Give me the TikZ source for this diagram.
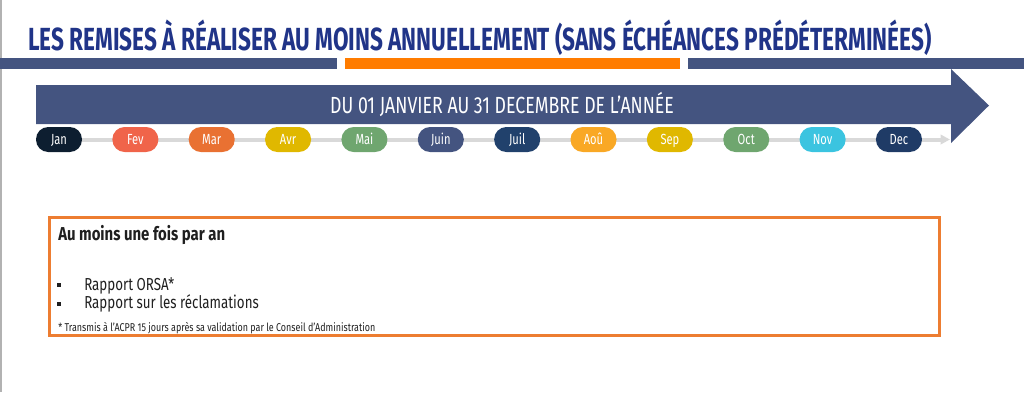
\documentclass[tikz,border=0pt]{standalone}
\usepackage{fontspec}
\setmainfont{Fira Sans}[FakeStretch=0.62]
\newfontfamily\ttlfont{Fira Sans}[FakeStretch=0.705]
\newfontfamily\yearfont{Fira Sans}[FakeStretch=0.76]
\newfontfamily\headfont{Fira Sans}[FakeStretch=0.80]
\newfontfamily\boxfont{Fira Sans}[FakeStretch=0.77]
\newfontfamily\notefont{Fira Sans}[FakeStretch=0.79]
\usetikzlibrary{positioning,arrows.meta,backgrounds}
\definecolor{titleblue}{RGB}{32,52,136}
\definecolor{slate}{RGB}{68,84,128}
\definecolor{barorange}{RGB}{255,124,0}
\definecolor{boxorange}{RGB}{237,125,49}
\definecolor{tlgray}{RGB}{217,217,217}
\definecolor{mjan}{RGB}{13,30,48}
\definecolor{mfev}{RGB}{240,100,74}
\definecolor{mmar}{RGB}{233,113,50}
\definecolor{mavr}{RGB}{224,184,0}
\definecolor{mmai}{RGB}{111,166,111}
\definecolor{mjuin}{RGB}{68,84,128}
\definecolor{mjuil}{RGB}{33,65,108}
\definecolor{maou}{RGB}{249,168,37}
\definecolor{mnov}{RGB}{59,196,224}
\definecolor{mdec}{RGB}{31,59,102}
\tikzset{
  % --- texts -----------------------------------------------------------
  ttl/.style    ={anchor=base west, inner sep=0, text=titleblue,
                  font=\ttlfont\bfseries\fontsize{24}{24}\selectfont},
  period/.style ={anchor=base, inner sep=0, text=white,
                  font=\yearfont\fontsize{17.5}{17.5}\selectfont},
  head/.style   ={anchor=base west, inner sep=0, text=black!88,
                  font=\headfont\bfseries\fontsize{14}{14}\selectfont},
  item/.style   ={anchor=base west, inner sep=0, text=black!88,
                  font=\boxfont\fontsize{13}{13}\selectfont},
  note/.style   ={anchor=base west, inner sep=0, text=black!88,
                  font=\notefont\fontsize{8.5}{8.5}\selectfont},
  % --- shapes ----------------------------------------------------------
  month/.style  ={rounded corners=9.2pt, minimum width=34.5pt,
                  minimum height=18.75pt, inner sep=0, text=white,
                  text height=7.6pt, text depth=0pt,
                  font=\yearfont\fontsize{11}{11}\selectfont},
  bul/.style    ={fill=black!88, minimum size=3.6pt, inner sep=0},
  remit/.style  ={draw=boxorange, line width=2.25pt, minimum width=667.5pt,
                  minimum height=88.5pt},
  timeline/.style={-{Triangle[length=7pt,width=7pt]}, line width=3pt, draw=tlgray},
}

\begin{document}
\begin{tikzpicture}[x=0.75pt, y=-0.75pt]
  \useasboundingbox (0,0) rectangle (1024,394);

  % ============================= frame & title =============================
  \draw[gray!60, line width=1.2pt] (1,0) -- (1,392);
  \node[ttl] (title) at (28,50)
    {LES REMISES À RÉALISER AU MOINS ANNUELLEMENT (SANS ÉCHÉANCES PRÉDÉTERMINÉES)};
  \fill[slate]      (0,57.5)   rectangle (336.5,69);
  \fill[barorange]  (345,57.5) rectangle (679.5,69);
  \fill[slate]      (688,57.5) rectangle (1024,69);

  % ============================= year arrow =============================
  \fill[slate] (36,85) -- (951,85) -- (951,69) -- (989,105.5)
    -- (951,143) -- (951,124) -- (36,124) -- cycle;
  \node[period] (year) at (502,113) {DU 01 JANVIER AU 31 DECEMBRE DE L’ANNÉE};

  % ============================= months =============================
  \foreach \m/\c [count=\i from 0] in {Jan/mjan, Fev/mfev, Mar/mmar, Avr/mavr,
      Mai/mmai, Juin/mjuin, Juil/mjuil, Aoû/maou, Sep/mavr, Oct/mmai,
      Nov/mnov, Dec/mdec}
    \node[month, fill=\c] (m\i) at (59+76.36*\i,139.5) {\m};
  \coordinate (tlend) at (950,139.5);
  \begin{scope}[on background layer]
    \draw[timeline] (m0.west) -- (tlend);
  \end{scope}

  % ============================= remittances box =============================
  \node[remit] (box) at (494.5,276) {};
  \node[head] (freq) at (58,240) {Au moins une fois par an};
  \node[bul] (b1) at (59,285) {};
  \node[bul] (b2) at (59,304) {};
  \node[item] (orsa)  at (84,290) {Rapport ORSA*};
  \node[item] (recl)  at (84,308) {Rapport sur les réclamations};
  \node[note] (trans) at (58,331)
    {* Transmis à l’ACPR 15 jours après sa validation par le Conseil d’Administration};

\end{tikzpicture}
\end{document}
